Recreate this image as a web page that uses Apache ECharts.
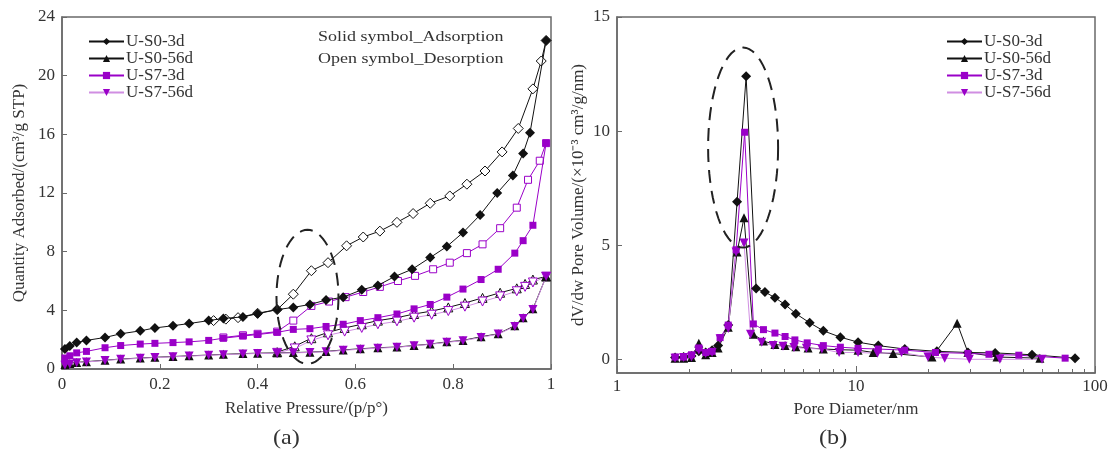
<!DOCTYPE html>
<html>
<head>
<meta charset="utf-8">
<script src="https://cdn.jsdelivr.net/npm/echarts@6/dist/echarts.min.js"></script>
<style>
  html, body { margin: 0; padding: 0; background: #fff; }
  #chart { width: 1115px; height: 461px; }
</style>
</head>
<body>
<div id="chart"></div>
<script>
// (a) N2 isotherms, [p/p0, quantity]
var s03dAds = [[0.006,1.37],[0.016,1.57],[0.03,1.8],[0.05,1.95],[0.088,2.15],[0.12,2.4],[0.16,2.6],[0.19,2.8],[0.227,2.95],[0.26,3.1],[0.3,3.3],[0.33,3.45],[0.37,3.55],[0.40,3.77],[0.44,4.05],[0.473,4.2],[0.507,4.4],[0.54,4.7],[0.575,4.9],[0.613,5.4],[0.646,5.7],[0.68,6.3],[0.716,6.8],[0.753,7.6],[0.787,8.35],[0.82,9.3],[0.855,10.5],[0.89,12.0],[0.922,13.2],[0.943,14.7],[0.957,16.1],[0.99,22.4]]
var s03dDes = [[0.99,22.4],[0.98,21.0],[0.963,19.1],[0.933,16.4],[0.90,14.8],[0.865,13.5],[0.828,12.6],[0.793,11.8],[0.753,11.3],[0.718,10.6],[0.685,10.0],[0.65,9.4],[0.616,9.0],[0.582,8.4],[0.544,7.25],[0.51,6.7],[0.473,5.1],[0.44,4.05],[0.40,3.8],[0.36,3.5],[0.335,3.4],[0.31,3.3]]
var s056dAds = [[0.006,0.3],[0.016,0.38],[0.03,0.45],[0.05,0.5],[0.088,0.6],[0.12,0.68],[0.16,0.75],[0.19,0.8],[0.227,0.85],[0.26,0.9],[0.3,0.95],[0.33,1.0],[0.37,1.05],[0.40,1.08],[0.44,1.1],[0.473,1.12],[0.507,1.15],[0.54,1.2],[0.575,1.3],[0.61,1.38],[0.646,1.45],[0.685,1.5],[0.72,1.6],[0.753,1.7],[0.787,1.85],[0.82,1.95],[0.857,2.2],[0.892,2.4],[0.926,2.95],[0.943,3.5],[0.963,4.1],[0.99,6.3]]
var s056dDes = [[0.99,6.3],[0.963,6.1],[0.947,5.8],[0.93,5.5],[0.896,5.2],[0.86,4.85],[0.824,4.5],[0.79,4.2],[0.756,3.95],[0.72,3.75],[0.685,3.5],[0.646,3.3],[0.613,3.05],[0.578,2.8],[0.544,2.5],[0.51,2.1],[0.476,1.55],[0.44,1.15]]
var s73dAds = [[0.006,0.75],[0.016,0.9],[0.03,1.1],[0.05,1.2],[0.088,1.45],[0.12,1.6],[0.16,1.7],[0.19,1.75],[0.227,1.8],[0.26,1.85],[0.3,1.95],[0.33,2.1],[0.37,2.25],[0.40,2.35],[0.44,2.5],[0.473,2.7],[0.507,2.75],[0.54,2.9],[0.575,3.05],[0.61,3.3],[0.646,3.5],[0.685,3.75],[0.72,4.1],[0.753,4.4],[0.787,4.9],[0.82,5.45],[0.857,6.1],[0.892,6.8],[0.926,7.9],[0.943,8.75],[0.963,9.8],[0.99,15.4]]
var s73dDes = [[0.99,15.4],[0.977,14.2],[0.953,12.9],[0.93,11.0],[0.896,9.6],[0.86,8.5],[0.828,7.9],[0.793,7.25],[0.759,6.8],[0.722,6.35],[0.687,6.0],[0.65,5.6],[0.616,5.25],[0.58,4.9],[0.546,4.6],[0.51,4.3],[0.473,3.3],[0.44,2.55],[0.40,2.4],[0.37,2.3],[0.33,2.15]]
var s756dAds = [[0.006,0.25],[0.016,0.33],[0.03,0.42],[0.05,0.48],[0.088,0.58],[0.12,0.66],[0.16,0.73],[0.19,0.78],[0.227,0.83],[0.26,0.88],[0.3,0.93],[0.33,0.98],[0.37,1.03],[0.40,1.06],[0.44,1.08],[0.473,1.1],[0.507,1.13],[0.54,1.18],[0.575,1.27],[0.61,1.35],[0.646,1.42],[0.685,1.48],[0.72,1.58],[0.753,1.68],[0.787,1.82],[0.82,1.93],[0.857,2.15],[0.892,2.38],[0.926,2.9],[0.943,3.45],[0.963,4.05],[0.99,6.3]]
var s756dDes = [[0.99,6.3],[0.963,5.9],[0.947,5.6],[0.93,5.3],[0.896,4.95],[0.86,4.6],[0.824,4.25],[0.79,3.95],[0.756,3.7],[0.72,3.5],[0.685,3.25],[0.646,3.05],[0.613,2.8],[0.578,2.55],[0.544,2.3],[0.51,1.95],[0.476,1.4],[0.44,1.1]]

// (b) pore size distribution, [diameter nm, dV/dw]
var s03dPsd = [[1.75,0.08],[1.9,0.1],[2.05,0.15],[2.2,0.35],[2.35,0.3],[2.5,0.4],[2.65,0.6],[2.92,1.5],[3.18,6.9],[3.47,12.4],[3.82,3.1],[4.16,2.95],[4.58,2.7],[5.05,2.4],[5.6,2.0],[6.4,1.6],[7.3,1.25],[8.6,0.97],[10.2,0.75],[12.4,0.6],[16,0.45],[21.8,0.35],[29.4,0.3],[38.2,0.28],[54.5,0.2],[82.5,0.05]]
var s056dPsd = [[1.75,0.05],[1.9,0.05],[2.05,0.08],[2.2,0.7],[2.35,0.2],[2.5,0.3],[2.65,0.5],[2.92,1.4],[3.18,4.7],[3.4,6.2],[3.72,1.1],[4.1,0.8],[4.58,0.65],[5.05,0.6],[5.6,0.55],[6.3,0.5],[7.3,0.45],[8.6,0.42],[10.2,0.4],[11.8,0.3],[14.3,0.25],[20.8,0.1],[26.5,1.58],[29.4,0.3],[38.9,0.1],[58.8,0.05]]
var s73dPsd = [[1.75,0.1],[1.9,0.1],[2.05,0.2],[2.2,0.5],[2.35,0.3],[2.5,0.35],[2.7,0.95],[2.92,1.5],[3.15,4.8],[3.42,9.95],[3.72,1.55],[4.1,1.3],[4.58,1.15],[5.05,1.0],[5.55,0.85],[6.25,0.72],[7.3,0.6],[8.6,0.53],[10.2,0.48],[12.4,0.45],[16,0.4],[21.5,0.3],[29.4,0.26],[36,0.22],[48,0.18],[75,0.05]]
var s756dPsd = [[1.75,0.05],[1.9,0.08],[2.05,0.1],[2.2,0.4],[2.35,0.25],[2.5,0.3],[2.7,0.9],[2.92,1.35],[3.15,4.7],[3.4,5.1],[3.62,1.1],[4.03,0.75],[4.5,0.6],[4.95,0.57],[5.5,0.52],[6.2,0.48],[7.2,0.45],[8.5,0.3],[10.2,0.3],[12.3,0.26],[15.5,0.3],[20,0.1],[23.5,0.05],[29.8,0.0],[40,0.0],[60,0.0]]

var names = ['U-S0-3d', 'U-S0-56d', 'U-S7-3d', 'U-S7-56d']
var yTicksB = [0, 5, 10, 15]
var xMinorB = [2,3,4,5,6,7,8,9,20,30,40,50,60,70,80,90]

var FONT = 'Liberation Serif'
var BLACK = '#111'
var PURPLE = '#9a00c8'
var PURPLE_LT = '#d08ee2'
var AXIS = '#6a6a6a'
var TEXT = '#333'

var look = {
  'U-S0-3d': { symbol: 'diamond', size: 10, color: BLACK, line: BLACK, rot: 0 },
  'U-S0-56d': { symbol: 'triangle', size: 9, color: BLACK, line: BLACK, rot: 0 },
  'U-S7-3d': { symbol: 'rect', size: 7, color: PURPLE, line: PURPLE, rot: 0 },
  'U-S7-56d': { symbol: 'triangle', size: 9, color: PURPLE, line: PURPLE_LT, rot: 180 }
}

function mk(name, data, open, xi) {
  var l = look[name]
  return {
    name: name,
    type: 'line',
    xAxisIndex: xi,
    yAxisIndex: xi === 0 ? 0 : 1,
    data: data,
    symbol: l.symbol,
    symbolSize: l.size,
    symbolRotate: l.rot,
    showAllSymbol: true,
    itemStyle: open ? { color: '#fff', borderColor: l.color, borderWidth: 1 } : { color: l.color },
    lineStyle: { color: l.line, width: 1 },
    z: open ? 2 : 3
  }
}

var legendBase = {
  orient: 'vertical',
  itemWidth: 35,
  itemHeight: 9,
  itemGap: 0,
  textStyle: { fontFamily: FONT, fontSize: 17, color: TEXT, lineHeight: 17, padding: [0, 0, 0, -3] },
  data: names
}

var axisText = { fontFamily: FONT, fontSize: 17, color: TEXT }

var chart = echarts.init(document.getElementById('chart'))
chart.setOption({
  animation: false,
  textStyle: { fontFamily: FONT },
  legend: [
    Object.assign({ left: 83, top: 28 }, legendBase),
    Object.assign({ left: 941, top: 28 }, legendBase)
  ],
  grid: [
    { left: 62, top: 17, width: 489, height: 352, show: true, borderColor: AXIS, borderWidth: 1.5 },
    { left: 617, top: 17, width: 478, height: 356, show: true, borderColor: AXIS, borderWidth: 1.5 }
  ],
  xAxis: [
    {
      type: 'value', gridIndex: 0, min: 0, max: 1, interval: 0.2,
      name: 'Relative Pressure/(p/p°)', nameLocation: 'middle', nameGap: 31,
      nameTextStyle: axisText,
      axisLine: { onZero: false, lineStyle: { color: AXIS, width: 1.5 } },
      axisTick: { inside: true, length: 5, lineStyle: { color: AXIS } },
      axisLabel: Object.assign({ margin: 7 }, axisText),
      splitLine: { show: false }
    },
    {
      type: 'log', gridIndex: 1, min: 1, max: 100, logBase: 10, position: 'bottom',
      name: 'Pore Diameter/nm', nameLocation: 'middle', nameGap: 28,
      nameTextStyle: axisText,
      axisLine: { onZero: false, lineStyle: { color: AXIS, width: 1.5 } },
      axisTick: { inside: true, length: 7, lineStyle: { color: AXIS } },
      axisLabel: Object.assign({ margin: 5 }, axisText),
      splitLine: { show: false }
    },
    {
      type: 'log', gridIndex: 1, min: 1, max: 100, logBase: 10, position: 'bottom',
      axisLine: { show: false, onZero: false },
      axisTick: { inside: true, length: 4, customValues: xMinorB, lineStyle: { color: AXIS } },
      axisLabel: { show: false },
      splitLine: { show: false }
    }
  ],
  yAxis: [
    {
      type: 'value', gridIndex: 0, min: 0, max: 24, interval: 4,
      name: 'Quantity Adsorbed/(cm³/g STP)', nameLocation: 'middle', nameGap: 34,
      nameTextStyle: axisText,
      axisLine: { onZero: false, lineStyle: { color: AXIS, width: 1.5 } },
      axisTick: { inside: true, length: 5, lineStyle: { color: AXIS } },
      axisLabel: Object.assign({ margin: 7 }, axisText),
      splitLine: { show: false }
    },
    {
      type: 'value', gridIndex: 1, min: -0.6, max: 15,
      name: 'dV/dw Pore Volume/(×10⁻³ cm³/g/nm)', nameLocation: 'middle', nameGap: 30,
      nameTextStyle: axisText,
      axisLine: { onZero: false, lineStyle: { color: AXIS, width: 1.5 } },
      axisTick: { inside: true, length: 5, customValues: yTicksB, lineStyle: { color: AXIS } },
      axisLabel: Object.assign({ margin: 7, customValues: yTicksB }, axisText),
      splitLine: { show: false }
    }
  ],
  series: [
    mk('U-S0-3d', s03dAds, false, 0),
    mk('U-S0-56d', s056dAds, false, 0),
    mk('U-S7-3d', s73dAds, false, 0),
    mk('U-S7-56d', s756dAds, false, 0),
    mk('U-S0-3d', s03dDes, true, 0),
    mk('U-S0-56d', s056dDes, true, 0),
    mk('U-S7-3d', s73dDes, true, 0),
    mk('U-S7-56d', s756dDes, true, 0),
    mk('U-S0-3d', s03dPsd, false, 1),
    mk('U-S0-56d', s056dPsd, false, 1),
    mk('U-S7-3d', s73dPsd, false, 1),
    mk('U-S7-56d', s756dPsd, false, 1)
  ]
})

// dashed ellipses around the marked regions
function ellipse(center, gridIndex, rx, ry) {
  var c = chart.convertToPixel({ gridIndex: gridIndex }, center)
  var pts = []
  for (var i = 0; i < 72; i++) {
    var a = i / 72 * Math.PI * 2
    pts.push([c[0] + rx * Math.cos(a), c[1] + ry * Math.sin(a)])
  }
  return {
    type: 'polygon', z: 10, silent: true,
    shape: { points: pts },
    style: { fill: null, stroke: '#222', lineWidth: 2, lineDash: [13, 8] }
  }
}

function label(text, x, y, size, sx) {
  return {
    type: 'text', x: x, y: y, scaleX: sx, silent: true,
    style: { text: text, font: size + 'px "Liberation Serif"', fill: TEXT }
  }
}

chart.setOption({
  graphic: [
    ellipse([0.502, 4.92], 0, 31, 67),
    ellipse([3.37, 9.28], 1, 35, 100),
    label('Solid symbol_Adsorption', 318, 30, 15, 1.2),
    label('Open symbol_Desorption', 318, 52, 15, 1.2),
    label('(a)', 273, 427, 22, 1.1),
    label('(b)', 819, 427, 22, 1.1)
  ]
})
</script>
</body>
</html>
